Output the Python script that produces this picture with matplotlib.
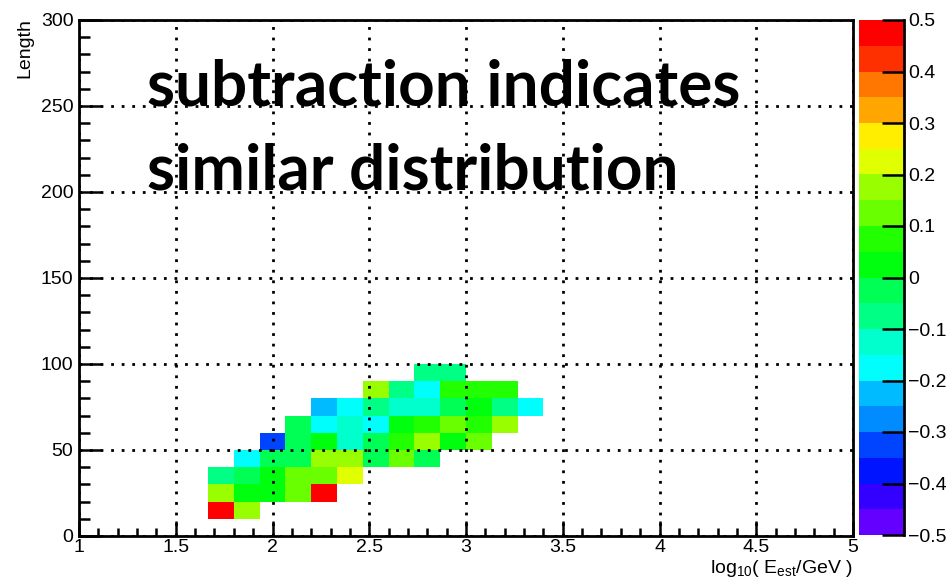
import colorsys
import numpy as np
import matplotlib
matplotlib.use("Agg")
import matplotlib.pyplot as plt
from matplotlib.colors import ListedColormap, BoundaryNorm
from matplotlib.ticker import MultipleLocator

plt.rcParams['font.family'] = ['Liberation Sans', 'DejaVu Sans']
plt.rcParams['mathtext.fontset'] = 'custom'
plt.rcParams['mathtext.rm'] = 'Liberation Sans'
plt.rcParams['mathtext.it'] = 'Liberation Sans:italic'

# ---- data ----
n_xbins, x_min, x_max = 30, 1.0, 5.0
n_ybins, y_min, y_max = 30, 0.0, 300.0
first_xbin = 5      # column 0 of `values` is x bin #5 (1.667-1.8)
first_ybin = 1      # row 0 of `values` is y bin #1 (10-20)
N = None
values = [
    # x bins 5 .. 17
    [0.47, 0.17, N, N, N, N, N, N, N, N, N, N, N],                              # 10-20
    [0.17, 0.02, 0.02, 0.12, 0.47, N, N, N, N, N, N, N, N],                     # 20-30
    [-0.07, -0.02, 0.02, 0.12, 0.12, 0.22, N, N, N, N, N, N, N],                # 30-40
    [N, -0.17, -0.02, -0.02, 0.17, 0.17, -0.02, 0.12, -0.02, N, N, N, N],       # 40-50
    [N, N, -0.32, -0.02, 0.02, -0.12, -0.02, 0.07, 0.17, 0.02, 0.12, N, N],     # 50-60
    [N, N, N, -0.02, -0.17, -0.12, -0.17, 0.02, 0.07, 0.12, 0.07, 0.17, N],     # 60-70
    [N, N, N, N, -0.22, -0.17, -0.07, -0.12, -0.12, -0.02, 0.02, -0.07, -0.17], # 70-80
    [N, N, N, N, N, N, 0.17, -0.07, -0.17, 0.07, 0.07, 0.07, N],                # 80-90
    [N, N, N, N, N, N, N, N, -0.07, -0.07, N, N, N],                            # 90-100
]
z_min, z_max, n_levels = -0.5, 0.5, 20
x_ticks_major = [1, 1.5, 2, 2.5, 3, 3.5, 4, 4.5, 5]
y_ticks_major = [0, 50, 100, 150, 200, 250, 300]
cbar_ticks = [-0.5, -0.4, -0.3, -0.2, -0.1, 0, 0.1, 0.2, 0.3, 0.4, 0.5]
cbar_labels = ['\u22120.5', '\u22120.4', '\u22120.3', '\u22120.2', '\u22120.1',
               '0', '0.1', '0.2', '0.3', '0.4', '0.5']

# ---- build grid ----
grid = np.full((n_ybins, n_xbins), np.nan)
for r, row in enumerate(values):
    for c, v in enumerate(row):
        if v is not None:
            grid[first_ybin + r, first_xbin + c] = v
x_edges = np.linspace(x_min, x_max, n_xbins + 1)
y_edges = np.linspace(y_min, y_max, n_ybins + 1)

# ROOT "pretty palette" (SetPalette(1)), 20 contour levels
def root_color(idx):
    if idx >= 49:
        return (1.0, 0.0, 0.0)
    hue = 280.0 - (idx + 1) * (280.0 / 50.0)
    return colorsys.hls_to_rgb(hue / 360.0, 0.5, 1.0)

cols = [root_color(int((k + 0.99) * 50 / n_levels)) for k in range(n_levels)]
cmap = ListedColormap(cols)
cmap.set_bad((1, 1, 1, 0))
bounds = np.linspace(z_min, z_max, n_levels + 1)
norm = BoundaryNorm(bounds, n_levels)

W, H = 951, 583
fig = plt.figure(figsize=(W / 100, H / 100), dpi=100)
L, R, T, B = 79, 853, 20, 536
ax = fig.add_axes([L / W, 1 - B / H, (R - L) / W, (B - T) / H])

mesh = ax.pcolormesh(x_edges, y_edges, np.ma.masked_invalid(grid), cmap=cmap,
                     norm=norm, zorder=1, antialiased=False, edgecolors='none')

ax.set_xlim(x_min, x_max)
ax.set_ylim(y_min, y_max)
ax.set_xticks(x_ticks_major)
ax.set_xticklabels([('%g' % v) for v in x_ticks_major])
ax.set_yticks(y_ticks_major)
ax.xaxis.set_minor_locator(MultipleLocator(0.1))
ax.yaxis.set_minor_locator(MultipleLocator(10))
ax.tick_params(axis='both', which='both', direction='in', top=False, right=False,
               width=1.8, labelsize=14, color='k')
ax.tick_params(axis='x', which='major', length=11, pad=2)
ax.tick_params(axis='x', which='minor', length=5.5)
ax.tick_params(axis='y', which='major', length=16, pad=4)
ax.tick_params(axis='y', which='minor', length=8)
for s in ax.spines.values():
    s.set_linewidth(2.0)
ax.grid(True, which='major', color='k', linestyle=(0, (1, 2.8)), linewidth=2)
ax.set_axisbelow(False)

# colorbar
cax = fig.add_axes([859 / W, 1 - 535 / H, (904 - 859) / W, (535 - 20) / H])
cb = fig.colorbar(mesh, cax=cax, ticks=cbar_ticks)
cb.outline.set_visible(False)
cax.set_yticklabels(cbar_labels)
cax.tick_params(axis='y', which='major', direction='in', length=15.5, width=1.8,
                labelsize=14, pad=3, right=True, left=False)
cax.tick_params(axis='y', which='minor', length=0)
cax.plot([1, 1], [0, 1], transform=cax.transAxes, color='k', lw=2, clip_on=False)

# titles
fig.text(25 / W, 1 - 18 / H, 'Length', rotation=90, ha='center', va='top', fontsize=14)
fig.text(853 / W, 1 - 573 / H, r'log$_{10}$( E$_{\mathrm{est}}$/GeV )',
         ha='right', va='baseline', fontsize=14)

# annotation
fig.text(147 / W, 1 - 105 / H, 'subtraction indicates', fontsize=46,
         family='Lato', weight='bold', ha='left', va='baseline', zorder=5)
fig.text(147 / W, 1 - 190 / H, 'similar distribution', fontsize=46,
         family='Lato', weight='bold', ha='left', va='baseline', zorder=5)

fig.savefig('out.png', dpi=100)
